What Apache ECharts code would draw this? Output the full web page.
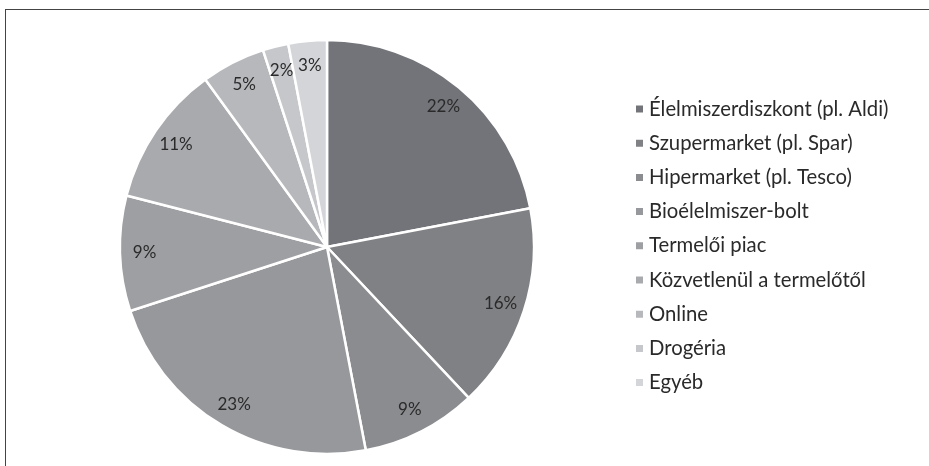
<!DOCTYPE html>
<html><head><meta charset="utf-8">
<script src="https://cdn.jsdelivr.net/npm/echarts@6/dist/echarts.min.js"></script>
<style>
html,body{margin:0;padding:0;background:#fff;}
#frame{position:absolute;left:5px;top:9px;width:940px;height:470px;border-left:1px solid #444;border-top:1px solid #444;}
#c{position:absolute;left:0;top:0;width:929px;height:466px;}
</style></head>
<body>
<div id="frame"></div>
<div id="c"></div>
<script>
const categories = ["Élelmiszerdiszkont (pl. Aldi)","Szupermarket (pl. Spar)","Hipermarket (pl. Tesco)","Bioélelmiszer-bolt","Termelői piac","Közvetlenül a termelőtől","Online","Drogéria","Egyéb"];
const values = [22,16,9,23,9,11,5,2,3];
const colors = ["#737479","#808185","#8b8c90","#97989c","#9e9fa3","#a9aaae","#b7b8bc","#c6c7ca","#d4d5d8"];

const data = categories.map((n,i)=>({name:n,value:values[i],itemStyle:{color:colors[i]}}));
const chart = echarts.init(document.getElementById('c'));
chart.setOption({
  animation:false,
  backgroundColor:'transparent',
  legend:{
    orient:'vertical', left:629, top:94, itemWidth:9, itemHeight:9, itemGap:14.2,
    icon:'rect',
    textStyle:{fontFamily:'Lato',fontSize:20.3,lineHeight:20,color:'#2a2a2a',padding:[0,0,0,0]},
    data:categories
  },
  series:[
    {type:'pie', center:[327,247], radius:[0,207], startAngle:90, clockwise:true,
     label:{show:false}, labelLine:{show:false},
     itemStyle:{borderColor:'#fff',borderWidth:2.5},
     emphasis:{disabled:true}, data:data},
    {type:'pie', center:[327,247], radius:[152,207], startAngle:90, clockwise:true, silent:true,
     itemStyle:{color:'rgba(0,0,0,0)',borderWidth:0},
     label:{show:true, position:'inside', formatter:'{c}%', fontFamily:'Lato', fontSize:17, color:'#2a2a2a'},
     labelLine:{show:false}, legendHoverLink:false,
     emphasis:{disabled:true},
     data:categories.map((n,i)=>({name:n+' ',value:values[i]}))}
  ]
});
</script>
</body></html>
